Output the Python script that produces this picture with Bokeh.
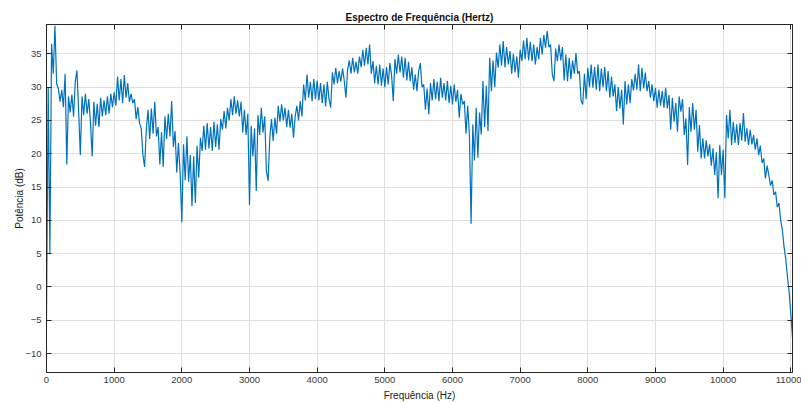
import numpy as np
from bokeh.plotting import figure
from bokeh.models import LinearAxis, FixedTicker, Range1d, CustomJSTickFormatter
from bokeh.embed import file_html
from bokeh.resources import INLINE

# Spectrum bins (25 Hz apart), in dB
BIN_HZ = 25
potencia_db = [
    -5.0, 30.0, 5.0, 36.5, 32.0, 39.2, 30.5, 29.8, 27.8, 29.6, 27.0, 32.0, 18.4, 28.6, 26.2, 28.9, 25.6, 30.8, 32.5, 26.4,
    19.8, 28.6, 25.8, 29.0, 26.0, 28.2, 24.6, 19.6, 27.8, 24.2, 27.5, 24.0, 28.4, 25.6, 28.0, 25.8, 28.6, 26.0, 29.0, 27.0,
    29.2, 27.2, 31.6, 28.0, 31.2, 27.6, 31.8, 28.4, 30.6, 27.8, 29.0, 27.6, 28.2, 25.2, 27.0, 24.6, 23.8, 19.8, 18.0, 23.6,
    26.6, 22.2, 26.8, 23.0, 27.8, 22.6, 24.0, 18.4, 23.2, 18.0, 25.6, 22.2, 26.0, 22.6, 27.9, 21.0, 23.4, 17.2, 21.6, 17.0,
    9.7, 21.4, 16.0, 22.6, 15.8, 19.8, 12.1, 19.6, 12.6, 21.2, 16.4, 22.4, 20.4, 24.2, 20.6, 24.6, 20.8, 24.0, 20.4, 24.8,
    21.0, 24.4, 20.6, 25.2, 23.6, 26.4, 23.8, 26.9, 25.0, 28.2, 25.8, 28.6, 26.0, 28.0, 25.6, 27.8, 23.2, 26.6, 22.8, 26.0,
    12.3, 24.2, 19.6, 23.8, 14.4, 25.8, 22.8, 26.9, 23.2, 25.6, 17.4, 15.9, 22.4, 25.2, 21.9, 25.4, 23.0, 27.2, 24.8, 27.4,
    25.0, 26.9, 24.0, 26.6, 23.9, 26.0, 22.4, 25.6, 27.2, 25.0, 27.9, 25.6, 30.4, 28.0, 31.9, 28.4, 30.8, 27.9, 31.2, 28.2,
    31.0, 28.0, 30.6, 27.6, 30.4, 27.1, 30.8, 28.2, 26.9, 32.2, 30.4, 32.9, 30.6, 32.4, 30.8, 32.8, 31.0, 28.4, 32.6, 34.0,
    32.0, 34.4, 32.2, 33.8, 32.0, 34.6, 33.0, 35.6, 33.2, 35.9, 33.4, 36.4, 32.0, 33.9, 30.6, 33.2, 30.4, 33.4, 30.2, 32.8,
    30.0, 33.0, 30.4, 33.6, 31.8, 27.9, 34.2, 32.0, 34.9, 32.2, 34.6, 31.4, 34.4, 31.0, 33.8, 30.9, 33.0, 29.6, 31.9, 29.4,
    32.4, 33.6, 30.0, 30.4, 26.6, 29.8, 25.9, 30.6, 28.0, 31.2, 28.2, 30.8, 27.9, 31.4, 28.4, 30.6, 28.0, 30.9, 27.6, 30.2,
    27.4, 30.4, 27.8, 29.6, 25.4, 29.0, 27.4, 27.9, 23.0, 27.2, 22.9, 9.5, 24.4, 19.0, 26.9, 19.4, 26.2, 22.9, 30.9, 24.0,
    30.2, 23.4, 34.4, 29.4, 34.0, 30.0, 35.2, 32.9, 36.4, 33.2, 36.9, 33.0, 36.0, 33.4, 35.4, 32.0, 35.0, 32.2, 34.6, 31.4,
    35.6, 33.9, 37.0, 34.2, 37.4, 34.0, 36.8, 33.9, 36.4, 33.4, 36.0, 34.2, 37.4, 34.9, 37.8, 35.9, 38.4, 36.0, 36.4, 31.9,
    30.9, 35.8, 33.9, 36.4, 34.0, 36.0, 31.0, 34.9, 30.9, 34.4, 31.2, 34.0, 32.0, 35.1, 32.0, 32.4, 28.0, 27.4, 32.0, 28.2,
    32.9, 30.0, 33.4, 29.9, 33.0, 29.6, 33.4, 29.4, 32.8, 30.0, 33.0, 29.4, 32.4, 28.4, 31.6, 28.6, 30.4, 26.4, 30.0, 26.8,
    29.6, 24.4, 30.9, 27.4, 30.4, 27.6, 31.2, 29.5, 32.0, 29.6, 33.4, 29.4, 32.9, 29.8, 32.2, 29.4, 30.9, 28.4, 30.4, 27.9,
    29.9, 26.9, 29.6, 27.2, 29.4, 26.9, 29.9, 26.8, 28.8, 23.6, 28.4, 24.8, 27.6, 23.3, 28.6, 26.3, 28.2, 22.8, 25.3, 18.3,
    27.0, 23.3, 27.6, 23.6, 26.6, 20.3, 24.3, 19.3, 22.3, 19.3, 22.0, 19.6, 21.4, 18.2, 20.8, 16.8, 20.2, 13.3, 21.3, 16.8,
    20.6, 13.3, 25.8, 22.3, 26.6, 21.3, 24.8, 21.6, 24.4, 21.3, 24.6, 22.0, 26.1, 21.8, 23.8, 21.3, 23.6, 21.4, 22.8, 20.6,
    22.3, 19.8, 21.2, 18.6, 19.3, 16.3, 18.2, 16.8, 15.2, 16.0, 13.8, 14.3, 12.0, 12.6, 10.0, 8.6, 6.0, 4.2, 1.6, -0.8,
    -4.0, -7.6,
]
frequencia_hz = [i * BIN_HZ for i in range(len(potencia_db))]

x_ticks = list(range(0, 11001, 1000))
y_ticks = list(range(-10, 36, 5))

FONT = "Liberation Sans"
AX = "#262626"
TXT = "#3a3a3a"
GRID = "#dfdfdf"

p = figure(width=801, height=403, output_backend="svg", toolbar_location=None,
           x_range=Range1d(0, 11025), y_range=Range1d(-12.85, 39.4),
           title="Espectro de Frequência (Hertz)",
           x_axis_label="Frequência (Hz)", y_axis_label="Potência (dB)",
           min_border_left=46, min_border_right=9, min_border_top=24, min_border_bottom=31)

p.line(frequencia_hz, potencia_db, line_color="#0072BD", line_width=1.2)

p.title.align = "center"
p.title.text_font = FONT
p.title.text_font_size = "10px"
p.title.text_font_style = "bold"
p.title.text_color = "#111111"
p.title.offset = 0
p.title.standoff = 4

for ax in (p.xaxis[0], p.yaxis[0]):
    ax.major_tick_in = 5
    ax.major_tick_out = 0
    ax.minor_tick_line_color = None
    ax.axis_line_color = AX
    ax.major_tick_line_color = AX
    ax.major_label_text_font = FONT
    ax.major_label_text_font_size = "9.5px"
    ax.major_label_text_color = TXT
    ax.axis_label_text_font = FONT
    ax.axis_label_text_font_size = "10px"
    ax.axis_label_text_font_style = "normal"
    ax.axis_label_text_color = "#222222"
p.xaxis[0].ticker = FixedTicker(ticks=x_ticks)
p.yaxis[0].ticker = FixedTicker(ticks=y_ticks)
p.xaxis[0].major_label_standoff = 4
p.xaxis[0].axis_label_standoff = 4
p.yaxis[0].major_label_standoff = 5
p.yaxis[0].axis_label_standoff = -3

blank = CustomJSTickFormatter(code="return '';")
for loc, ticks in (("right", y_ticks), ("above", x_ticks)):
    extra = LinearAxis(ticker=FixedTicker(ticks=ticks), formatter=blank,
                       major_tick_in=5, major_tick_out=0, minor_tick_line_color=None,
                       axis_line_color=AX, major_tick_line_color=AX, major_label_standoff=0)
    p.add_layout(extra, loc)

p.xgrid.ticker = FixedTicker(ticks=x_ticks)
p.ygrid.ticker = FixedTicker(ticks=y_ticks)
p.grid.grid_line_color = GRID
p.grid.grid_line_width = 1
p.outline_line_color = AX
p.background_fill_color = "white"
p.border_fill_color = "white"

open("out.html", "w").write(file_html(p, INLINE))
